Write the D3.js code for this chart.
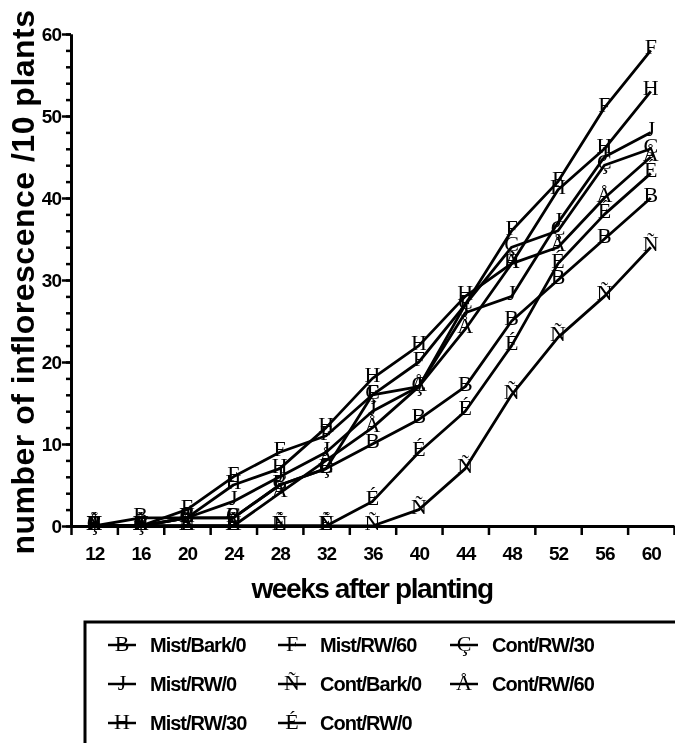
<!DOCTYPE html>
<html>
<head>
<meta charset="utf-8">
<script src="https://cdn.jsdelivr.net/npm/d3@7"></script>
<style>
  body { margin: 0; background: #fff; }
  svg { display: block; filter: grayscale(100%); }
  .axis-num { font-family: "Liberation Sans", Arial, sans-serif; font-weight: bold; font-size: 19px; letter-spacing: -1px; fill: #000; }
  .axis-title { font-family: "Liberation Sans", Arial, sans-serif; font-weight: bold; fill: #000; }
  .marker { font-family: "Liberation Serif", "Times New Roman", serif; font-size: 22px; fill: #000; }
  .legend-label { font-family: "Liberation Sans", Arial, sans-serif; font-weight: bold; font-size: 20px; letter-spacing: -1px; fill: #000; }
</style>
</head>
<body>
<svg id="chart" width="675" height="743"></svg>
<script>
// weeks after planting
const WEEKS = [12, 16, 20, 24, 28, 32, 36, 40, 44, 48, 52, 56, 60];

// number of inflorescence per 10 plants
const MIST_BARK_0 = [0, 1, 1, 1, 5, 7, 10, 13, 17, 25, 30, 35, 40];
const MIST_RW_0 = [0, 0, 1, 3, 6, 9, 14, 17, 26, 28, 37, 45, 48];
const MIST_RW_30 = [0, 0, 1, 5, 7, 12, 18, 22, 28, 32, 41, 46, 53];
const MIST_RW_60 = [0, 0, 2, 6, 9, 11, 16, 20, 27, 36, 42, 51, 58];
const CONT_BARK_0 = [0, 0, 0, 0, 0, 0, 0, 2, 7, 16, 23, 28, 34];
const CONT_RW_0 = [0, 0, 0, 0, 0, 0, 3, 9, 14, 22, 32, 38, 43];
const CONT_RW_30 = [0, 0, 1, 1, 5, 7, 16, 17, 27, 34, 36, 44, 46];
const CONT_RW_60 = [0, 0, 0, 0, 4, 8, 12, 17, 24, 32, 34, 40, 45];

const SERIES_NAMES = ['Mist/Bark/0', 'Mist/RW/0', 'Mist/RW/30', 'Mist/RW/60', 'Cont/Bark/0', 'Cont/RW/0', 'Cont/RW/30', 'Cont/RW/60'];
// the original symbol font came out as plain letters
const SERIES_GLYPHS = ['B', 'J', 'H', 'F', 'Ñ', 'É', 'Ç', 'Å'];
const SERIES_VALUES = [MIST_BARK_0, MIST_RW_0, MIST_RW_30, MIST_RW_60, CONT_BARK_0, CONT_RW_0, CONT_RW_30, CONT_RW_60];

const Y_TICKS = [0, 10, 20, 30, 40, 50, 60];
// legend reads down the columns
const LEGEND_ORDER = [0, 1, 2, 3, 4, 5, 6, 7];

const series = SERIES_NAMES.map((name, i) => ({
  name,
  glyph: SERIES_GLYPHS[i],
  points: WEEKS.map((w, j) => ({ week: w, value: SERIES_VALUES[i][j] }))
}));

const svg = d3.select('#chart');
const x = d3.scaleLinear().domain([10, 62]).range([71, 674]);
const y = d3.scaleLinear().domain([0, 60]).range([526, 34]);

// y axis: major ticks with labels, minor every 2
const yMinor = svg.append('g').attr('transform', 'translate(71,0)')
  .call(d3.axisLeft(y).tickValues(d3.range(0, 61, 2)).tickSize(5).tickSizeOuter(0).tickFormat(''));
const yMajor = svg.append('g').attr('transform', 'translate(71,0)')
  .call(d3.axisLeft(y).tickValues(Y_TICKS).tickSize(9).tickSizeOuter(0).tickPadding(1));
yMajor.selectAll('text').attr('class', 'axis-num').attr('dy', '0.36em');

// x axis: ticks sit between the week columns
const xTicks = svg.append('g').attr('transform', 'translate(0,526)')
  .call(d3.axisBottom(x).tickValues(d3.range(10, 63, 4)).tickSize(9).tickSizeOuter(0).tickFormat(''));
const xLabels = svg.append('g').attr('transform', 'translate(0,526)')
  .call(d3.axisBottom(x).tickValues(WEEKS).tickSize(0).tickPadding(20));
xLabels.select('.domain').remove();
xLabels.selectAll('text').attr('class', 'axis-num').attr('dy', 0).attr('y', 34);

[yMinor, yMajor, xTicks].forEach((g) => {
  g.selectAll('.domain').attr('stroke', '#000').attr('stroke-width', 2.8);
  g.selectAll('.tick line').attr('stroke', '#000').attr('stroke-width', 2.5);
});

// lines
const line = d3.line().x((d) => x(d.week)).y((d) => y(d.value));
svg.append('g').selectAll('path')
  .data(series)
  .join('path')
  .attr('d', (s) => line(s.points))
  .attr('fill', 'none')
  .attr('stroke', '#000')
  .attr('stroke-width', 2.8)
  .attr('stroke-linejoin', 'round');

// letter markers, baseline a little below the point
svg.append('g').selectAll('g')
  .data(series)
  .join('g')
  .selectAll('text')
  .data((s) => s.points.map((p) => ({ ...p, glyph: s.glyph })))
  .join('text')
  .attr('class', 'marker')
  .attr('x', (d) => x(d.week))
  .attr('y', (d) => y(d.value) + 4)
  .attr('text-anchor', 'middle')
  .text((d) => d.glyph);

// axis titles
svg.append('text')
  .attr('class', 'axis-title')
  .attr('x', 372)
  .attr('y', 598)
  .attr('text-anchor', 'middle')
  .style('font-size', '28px')
  .style('letter-spacing', '-1.4px')
  .text('weeks after planting');

svg.append('text')
  .attr('class', 'axis-title')
  .attr('transform', 'translate(34,282) rotate(-90)')
  .attr('text-anchor', 'middle')
  .style('font-size', '32px')
  .style('letter-spacing', '0.5px')
  .text('number of inflorescence /10 plants');

// legend: only the top and left edges of the frame are in view
const legend = svg.append('g');
legend.append('path')
  .attr('d', 'M85,743 V622 H675')
  .attr('fill', 'none')
  .attr('stroke', '#000')
  .attr('stroke-width', 3);

const colX = [108, 278, 450];
const rowY = [645, 684, 723];
LEGEND_ORDER.forEach((si, k) => {
  const s = series[si];
  const cx = colX[Math.floor(k / 3)];
  const cy = rowY[k % 3];
  const item = legend.append('g').attr('transform', `translate(${cx},${cy})`);
  item.append('line').attr('x1', 0).attr('x2', 28).attr('y1', 0).attr('y2', 0)
    .attr('stroke', '#000').attr('stroke-width', 2.5);
  item.append('text').attr('class', 'marker').attr('x', 14).attr('y', 6)
    .attr('text-anchor', 'middle').text(s.glyph);
  item.append('text').attr('class', 'legend-label').attr('x', 42).attr('y', 7).text(s.name);
});
</script>
</body>
</html>
